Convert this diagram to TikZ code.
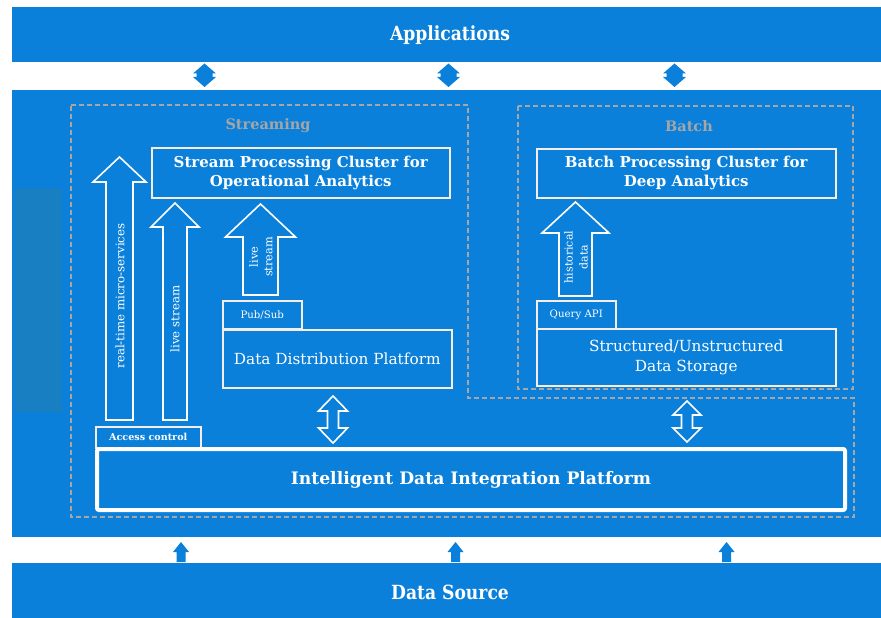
\documentclass[tikz,border=0pt]{standalone}
\usepackage{fontspec}
\setmainfont{DejaVu Serif}
\newfontfamily\condfont[FakeStretch=0.88]{DejaVu Serif}
\definecolor{bandblue}{HTML}{0A80DA}
\definecolor{sidepanel}{HTML}{177FC2}
\definecolor{dashgray}{HTML}{A6A6A6}
\definecolor{boxedge}{HTML}{F6ECE8}

% hollow block arrow pointing up: cx, shaft half, head half, tip y, head base y, bottom y
\newcommand\hollowup[6]{%
  \draw[hollow] (#1-#2,#6) -- (#1-#2,#5) -- (#1-#3,#5) -- (#1,#4) -- (#1+#3,#5)
    -- (#1+#2,#5) -- (#1+#2,#6) -- cycle;}
% two-headed block arrow: style, cx, shaft half, head half, top tip, top base, bottom base, bottom tip
\newcommand\vdouble[8]{%
  \path[#1] (#2,#5) -- (#2+#4,#6) -- (#2+#3,#6) -- (#2+#3,#7) -- (#2+#4,#7) -- (#2,#8)
    -- (#2-#4,#7) -- (#2-#3,#7) -- (#2-#3,#6) -- (#2-#4,#6) -- cycle;}
% small solid up arrow: cx, shaft half, head half, tip, head base, bottom
\newcommand\solidup[6]{%
  \fill[bandblue] (#1-#2,#6) -- (#1-#2,#5) -- (#1-#3,#5) -- (#1,#4) -- (#1+#3,#5)
    -- (#1+#2,#5) -- (#1+#2,#6) -- cycle;}

\begin{document}
\begin{tikzpicture}[x=1pt,y=-1pt,
  bandtext/.style={text=white, font=\condfont\bfseries\fontsize{19.5}{22}\selectfont},
  box/.style={draw=boxedge, line width=1.5pt, text=white, anchor=north west, inner sep=0pt, align=center},
  boldtitle/.style={font=\bfseries\fontsize{15}{19}\selectfont},
  plain/.style={font=\fontsize{15.3}{20}\selectfont},
  tag/.style={box, font=\fontsize{10.2}{12}\selectfont},
  grouplabel/.style={text=dashgray, font=\bfseries\fontsize{14.5}{16}\selectfont},
  group/.style={draw=dashgray, line width=1.6pt, dash pattern=on 5pt off 3pt},
  hollow/.style={draw=white, line width=1.6pt, fill=bandblue, line join=miter},
  bluefill/.style={fill=bandblue},
  arrowtext/.style={text=white, rotate=90, align=center}
]
\useasboundingbox (0,0) rectangle (881,618);
\fill[white] (0,0) rectangle (881,618);

% top and bottom bands, middle field
\fill[bandblue] (12,7) rectangle (881,62);
\node[bandtext] (apps) at (450,35) {Applications};
\fill[bandblue] (12,90) rectangle (881,537);
\fill[sidepanel] (15,188) rectangle (62,412);
\fill[bandblue] (12,563) rectangle (881,618);
\node[bandtext] (src) at (450,592) {Data Source};

% arrows between the bands
\foreach \x in {204.5,448.5,674.5} {\vdouble{bluefill}{\x}{8}{11.5}{63.5}{73.5}{77}{87}}
\foreach \x in {181,455.5,726.5} {\solidup{\x}{4.5}{8}{542}{552}{562}}

% dashed groups
\draw[group] (71,105) -- (468,105) -- (468,398) -- (854,398) -- (854,517) -- (71,517) -- cycle;
\draw[group] (518,106) rectangle (853,389);
\node[grouplabel] (streaming) at (268,126) {Streaming};
\node[grouplabel] (batch) at (689,126) {Batch};

% streaming side
\node[box, boldtitle, minimum width=298pt, minimum height=50pt] (spc) at (151,147)
  {Stream Processing Cluster for\\Operational Analytics};
\node[tag, minimum width=79pt, minimum height=28pt] (pubsub) at (222,300) {Pub/Sub};
\node[box, plain, minimum width=229pt, minimum height=58pt] (ddp) at (222,329)
  {Data Distribution Platform};

% batch side
\node[box, boldtitle, minimum width=299pt, minimum height=49pt] (bpc) at (536,148)
  {Batch Processing Cluster for\\Deep Analytics};
\node[tag, minimum width=79pt, minimum height=28pt] (query) at (536,300) {Query API};
\node[box, plain, minimum width=299pt, minimum height=57pt] (store) at (536,328)
  {Structured/Unstructured\\Data Storage};

% integration layer
\node[tag, font=\bfseries\fontsize{9.6}{11}\selectfont, minimum width=105pt, minimum height=21pt] (access) at (95,426) {Access control};
\draw[draw=white, line width=4pt, rounded corners=2pt] (97,449) rectangle (845,510);
\node[text=white, font=\bfseries\fontsize{17.2}{20}\selectfont] (idip) at (471,480) {Intelligent Data Integration Platform};

% block arrows
\hollowup{119.5}{13.5}{26.5}{157}{182}{420}
\node[arrowtext, font=\fontsize{11.8}{14}\selectfont] (rtms) at (120,296) {real-time micro-services};
\hollowup{175}{12}{24}{203}{227}{420}
\node[arrowtext, font=\fontsize{11.8}{14}\selectfont] (ls1) at (175,319) {live stream};
\hollowup{260.5}{17.5}{35}{204}{237}{295}
\node[arrowtext, font=\fontsize{11.3}{14.5}\selectfont] (ls2) at (261,257) {live\\stream};
\hollowup{575.5}{16.5}{33.5}{202}{233}{296}
\node[arrowtext, font=\fontsize{11}{15}\selectfont] (hist) at (576,257) {historical\\data};

\vdouble{hollow}{333}{5.5}{14.5}{396}{411}{428}{443}
\vdouble{hollow}{687}{5.5}{14}{401}{415}{428}{442}
\end{tikzpicture}
\end{document}
